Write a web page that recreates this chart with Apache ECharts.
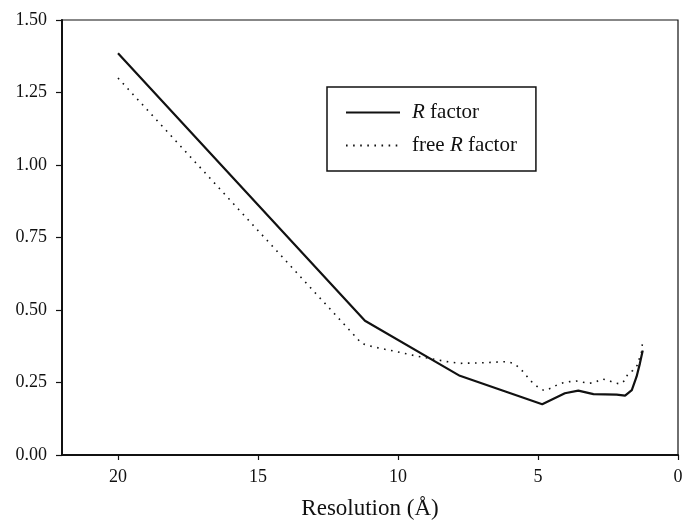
<!DOCTYPE html>
<html>
<head>
<meta charset="utf-8">
<script src="https://cdn.jsdelivr.net/npm/echarts@6/dist/echarts.min.js"></script>
<style>
html, body { margin: 0; padding: 0; background: #fff; }
#chart { width: 683px; height: 520px; }
</style>
</head>
<body>
<div id="chart"></div>
<script>
// resolution (Å) and R values
var rX = [20, 11.18, 7.79, 4.85, 4.04, 3.56, 3.02, 2.19, 1.89, 1.65, 1.48, 1.36, 1.26];
var rY = [1.385, 0.463, 0.273, 0.175, 0.213, 0.222, 0.210, 0.208, 0.205, 0.224, 0.270, 0.316, 0.360];

var freeX = [20, 11.3, 11.0, 10.64, 9.93, 9.33, 8.86, 8.26, 7.79, 6.95, 6.12, 5.88, 5.64, 5.44, 5.23, 4.99, 4.78,
	4.55, 4.33, 4.10, 3.86, 3.64, 3.40, 3.18, 2.96, 2.73, 2.52, 2.29, 2.07, 1.87, 1.80, 1.62, 1.45, 1.38, 1.30, 1.26];
var freeY = [1.30, 0.385, 0.376, 0.368, 0.354, 0.341, 0.333, 0.322, 0.316, 0.318, 0.322, 0.316, 0.299, 0.276, 0.253, 0.233, 0.222,
	0.230, 0.241, 0.249, 0.253, 0.255, 0.251, 0.247, 0.251, 0.262, 0.259, 0.249, 0.245, 0.259, 0.279, 0.291, 0.310, 0.333, 0.356, 0.397];

var xTicks = [0, 5, 10, 15, 20];
var seriesNames = ['R factor', 'free R factor'];

function pairs(xs, ys) {
	return xs.map(function(x, i) { return [x, ys[i]]; });
}

var font = 'Liberation Serif';
var myChart = echarts.init(document.getElementById('chart'));
myChart.setOption({
	backgroundColor: '#fff',
	animation: false,
	grid: {
		left: 62, right: 5, top: 20, bottom: 65,
		outerBoundsMode: 'none',
		show: true, borderColor: '#111', borderWidth: 1.2
	},
	legend: {
		left: 327, top: 87,
		orient: 'vertical',
		borderColor: '#111', borderWidth: 1.5,
		padding: [15, 19, 15, 18],
		itemWidth: 54, itemHeight: 20, itemGap: 12,
		data: seriesNames,
		// hide the symbol, keep only the line sample
		itemStyle: { color: 'transparent', borderWidth: 0 },
		formatter: function(name) {
			return name.replace('R factor', '{i|R} factor');
		},
		textStyle: {
			fontFamily: font, fontSize: 21, color: '#111',
			padding: [0, 0, 0, 7],
			rich: { i: { fontFamily: font, fontSize: 21, fontStyle: 'italic', color: '#111' } }
		}
	},
	xAxis: {
		type: 'value', min: 0, max: 22, inverse: true,
		name: 'Resolution (Å)', nameLocation: 'middle', nameGap: 42,
		nameTextStyle: { fontFamily: font, fontSize: 23, color: '#111' },
		splitLine: { show: false },
		axisLine: { onZero: false, lineStyle: { color: '#111', width: 2 } },
		axisTick: { length: 5, customValues: xTicks, lineStyle: { color: '#111', width: 1.2 } },
		axisLabel: { customValues: xTicks, margin: 13, fontFamily: font, fontSize: 18, color: '#111' }
	},
	yAxis: {
		type: 'value', min: 0, max: 1.5, interval: 0.25,
		splitLine: { show: false },
		axisLine: { show: true, onZero: false, lineStyle: { color: '#111', width: 2 } },
		axisTick: { show: true, length: 6, lineStyle: { color: '#111', width: 1.2 } },
		axisLabel: {
			margin: 15, fontFamily: font, fontSize: 18, color: '#111',
			formatter: function(v) { return v.toFixed(2); }
		}
	},
	series: [
		{
			name: seriesNames[0], type: 'line', symbol: 'none',
			data: pairs(rX, rY),
			lineStyle: { color: '#111', width: 2.2 },
			itemStyle: { color: '#111' }
		},
		{
			name: seriesNames[1], type: 'line', symbol: 'none',
			data: pairs(freeX, freeY),
			lineStyle: { color: '#111', width: 1.6, type: [1.6, 5.5] },
			itemStyle: { color: '#111' }
		}
	]
});
</script>
</body>
</html>
